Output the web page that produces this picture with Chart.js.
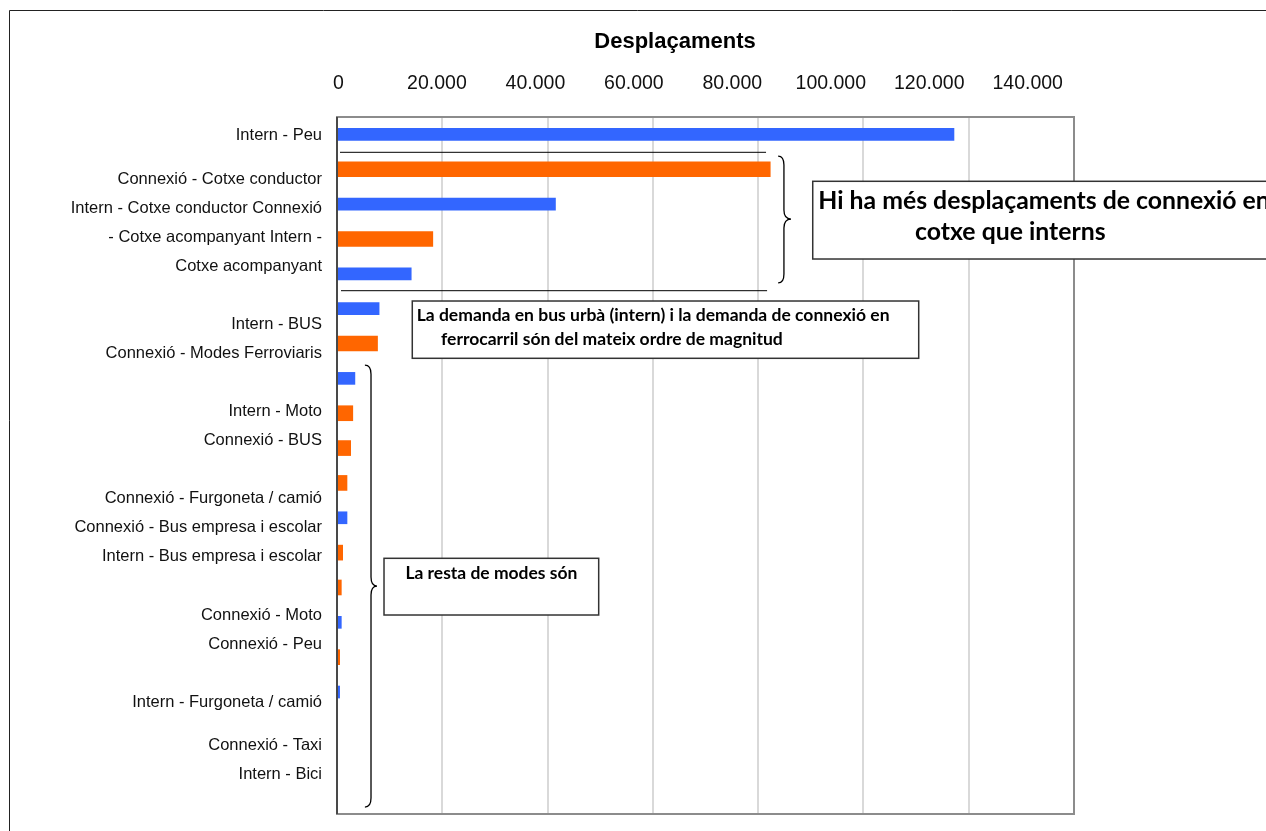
<!DOCTYPE html>
<html>
<head>
<meta charset="utf-8">
<script src="https://cdn.jsdelivr.net/npm/chart.js@4.4.1/dist/chart.umd.min.js"></script>
<style>
html,body{margin:0;padding:0;background:#fff;}
#wrap{position:relative;width:1266px;height:831px;}
canvas{display:block;}
</style>
</head>
<body>
<div id="wrap"><canvas id="c" width="1266" height="831"></canvas></div>
<script>
// ---- data ----
const categories = [
  "Intern - Peu", "Connexió - Cotxe conductor", "Intern - Cotxe conductor",
  "Connexió - Cotxe acompanyant", "Intern - Cotxe acompanyant", "Intern - BUS",
  "Connexió - Modes Ferroviaris", "Intern - Moto", "Connexió - BUS",
  "Connexió - Furgoneta / camió", "Connexió - Bus empresa i escolar",
  "Intern - Bus empresa i escolar", "Connexió - Moto", "Connexió - Peu",
  "Intern - Furgoneta / camió", "Connexió - Taxi", "Intern - Bici",
  "Connexió - Bici", "Intern - Taxi", "Intern - Altres"
];
const internValues   = [117200, null, 41500, null, 14100, 8000, null, 3400, null, null, null, 1900, null, null, 820, null, 500, null, 0, 0];
const connexioValues = [null, 82300, null, 18200, null, null, 7700, null, 3000, 2600, 1900, null, 1080, 820, null, 510, null, 0, null, null];
const xTickValues = [0, 20000, 40000, 60000, 80000, 100000, 120000, 140000];
// category labels as they appear in the side column (blank rows keep the spacing)
const axisLabels = [
  "", "Intern - Peu", "", "", "Connexió - Cotxe conductor", "",
  "Intern - Cotxe conductor Connexió", "", "- Cotxe acompanyant Intern -", "",
  "Cotxe acompanyant", "", "", "", "Intern - BUS", "", "Connexió - Modes Ferroviaris",
  "", "", "", "Intern - Moto", "", "Connexió - BUS", "", "", "",
  "Connexió - Furgoneta / camió", "", "Connexió - Bus empresa i escolar", "",
  "Intern - Bus empresa i escolar", "", "", "", "Connexió - Moto", "",
  "Connexió - Peu", "", "", "", "Intern - Furgoneta / camió", "", "",
  "Connexió - Taxi", "", "Intern - Bici", "", ""
];
const titleText = "Desplaçaments";
const note1 = ["Hi ha més desplaçaments de connexió en", "cotxe que interns"];
const note2 = ["La demanda en bus urbà (intern) i la demanda de connexió en", "ferrocarril són del mateix ordre de magnitud"];
const note3 = ["La resta de modes són"];

const BLUE = "#3366FF", ORANGE = "#FF6600";

function fmt(v){ return String(Math.round(v)).replace(/\B(?=(\d{3})+(?!\d))/g, "."); }

function fitSize(ctx, text, target, weight, family){
  ctx.font = weight + " 20px " + family;
  const w = ctx.measureText(text).width;
  return 20 * target / w;
}

function brace(ctx, xEnd, xMid, xTip, yTop, yTip, yBot){
  const r = 9;
  ctx.beginPath();
  ctx.moveTo(xEnd, yTop);
  ctx.quadraticCurveTo(xMid, yTop, xMid, yTop + r);
  ctx.lineTo(xMid, yTip - r);
  ctx.quadraticCurveTo(xMid, yTip, xTip, yTip);
  ctx.quadraticCurveTo(xMid, yTip, xMid, yTip + r);
  ctx.lineTo(xMid, yBot - r);
  ctx.quadraticCurveTo(xMid, yBot, xEnd, yBot);
  ctx.stroke();
}

function noPad(s){ s.paddingTop = 0; s.paddingBottom = 0; s.paddingLeft = 0; s.paddingRight = 0; }

const annotations = {
  id: "annotations",
  afterDraw(chart){
    const ctx = chart.ctx;
    const xs = chart.scales.x, ys = chart.scales.y;
    const X = v => xs.getPixelForValue(v);
    const Y = v => ys.getPixelForValue(v);
    const ca = chart.chartArea;
    ctx.save();
    // outer frame
    ctx.strokeStyle = "#222"; ctx.lineWidth = 1;
    ctx.beginPath(); ctx.moveTo(9.5, 831); ctx.lineTo(9.5, 10.5); ctx.lineTo(1266, 10.5); ctx.stroke();
    // plot border
    ctx.strokeStyle = "#8c8c8c"; ctx.lineWidth = 2;
    ctx.strokeRect(ca.left, ca.top, ca.right - ca.left, ca.bottom - ca.top);
    ctx.strokeStyle = "#333"; ctx.lineWidth = 1.5;
    ctx.beginPath(); ctx.moveTo(ca.left, ca.top); ctx.lineTo(ca.left, ca.bottom); ctx.stroke();
    // title
    ctx.fillStyle = "#000";
    ctx.font = "bold 22px 'Liberation Sans', Arial, sans-serif";
    ctx.textAlign = "center"; ctx.textBaseline = "middle";
    ctx.fillText(titleText, 675, 42);
    // separator lines
    ctx.strokeStyle = "#000"; ctx.lineWidth = 1;
    ctx.beginPath();
    ctx.moveTo(X(570), Y(0.513)); ctx.lineTo(X(81500), Y(0.513));
    ctx.moveTo(X(760), Y(4.484)); ctx.lineTo(X(81700), Y(4.484));
    ctx.stroke();
    // braces
    ctx.lineWidth = 1.3;
    brace(ctx, X(83800), X(84900), X(86250), Y(0.62), Y(2.43), Y(4.26));
    brace(ctx, X(5300), X(6460), X(7600), Y(6.62), Y(12.96), Y(19.30));
    // boxes
    const fam = "Lato, 'Open Sans', sans-serif";
    ctx.strokeStyle = "#333"; ctx.lineWidth = 1.5; ctx.fillStyle = "#fff";
    function box(x0, x1, y0, y1){
      const l = X(x0), r = X(x1), t = Y(y0), b = Y(y1);
      ctx.fillStyle = "#fff"; ctx.fillRect(l, t, r - l, b - t);
      ctx.strokeRect(l, t, r - l, b - t);
      return {l, r, t, b};
    }
    const b1 = box(90370, 182000, 1.345, 3.575);
    const s1 = fitSize(ctx, note1[1], 190.7, "bold", fam);
    ctx.fillStyle = "#000"; ctx.textAlign = "left"; ctx.textBaseline = "middle";
    ctx.font = "bold " + s1 + "px " + fam;
    ctx.fillText(note1[0], b1.l + 5.6, b1.t + 19.4);
    ctx.fillText(note1[1], b1.l + 102.3, b1.t + 50.4);

    const b2 = box(14300, 110500, 4.78, 6.424);
    const s2 = fitSize(ctx, note2[0], 473.3, "bold", fam);
    ctx.fillStyle = "#000"; ctx.font = "bold " + s2 + "px " + fam;
    ctx.fillText(note2[0], b2.l + 4.4, b2.t + 14);
    ctx.fillText(note2[1], b2.l + 28.7, b2.t + 38.3);

    const b3 = box(8930, 49710, 12.163, 13.79);
    const s3 = fitSize(ctx, note3[0], 172, "bold", fam);
    ctx.fillStyle = "#000"; ctx.font = "bold " + s3 + "px " + fam;
    ctx.textAlign = "center";
    ctx.fillText(note3[0], (b3.l + b3.r) / 2, b3.t + 15);
    ctx.restore();
  }
};

new Chart(document.getElementById("c"), {
  type: "bar",
  data: {
    labels: categories,
    datasets: [
      { label: "Intern", data: internValues, backgroundColor: BLUE, barThickness: 12, grouped: false, xAxisID: "x", yAxisID: "y" },
      { label: "Connexió", data: connexioValues, backgroundColor: ORANGE, barThickness: 15, grouped: false, xAxisID: "x", yAxisID: "y" }
    ]
  },
  options: {
    indexAxis: "y",
    responsive: false,
    animation: false,
    devicePixelRatio: 1,
    layout: { padding: { top: 55.4, left: 0, right: 192, bottom: 17 } },
    plugins: { legend: { display: false }, tooltip: { enabled: false }, title: { display: false } },
    scales: {
      y: { type: "category", display: false, offset: true },
      yl: {
        type: "category", labels: axisLabels, position: "left", offset: true,
        grid: { display: false, drawTicks: false }, border: { display: false },
        ticks: { autoSkip: false, padding: 15, labelOffset: -3, color: "#111", font: { family: "'Liberation Sans', Arial, sans-serif", size: 16.5 } },
        afterFit(s){ s.width = 337; noPad(s); }
      },
      x: {
        type: "linear", position: "top", min: 0, max: 140000,
        ticks: { display: false, stepSize: 20000 },
        grid: { color: "#d9d9d9", lineWidth: 2, drawTicks: false },
        border: { display: false },
        afterFit(s){ s.height = 0; noPad(s); }
      },
      xl: {
        type: "linear", position: "top", min: -300, max: 149400,
        grid: { display: false, drawTicks: false }, border: { display: false },
        afterBuildTicks(s){ s.ticks = xTickValues.map(v => ({ value: v })); },
        ticks: { padding: 21.6, color: "#111", font: { family: "'Liberation Sans', Arial, sans-serif", size: 19.5 }, callback: v => fmt(v) },
        afterFit(s){ s.height = 61.6; noPad(s); }
      }
    }
  },
  plugins: [annotations]
});
</script>
</body>
</html>
